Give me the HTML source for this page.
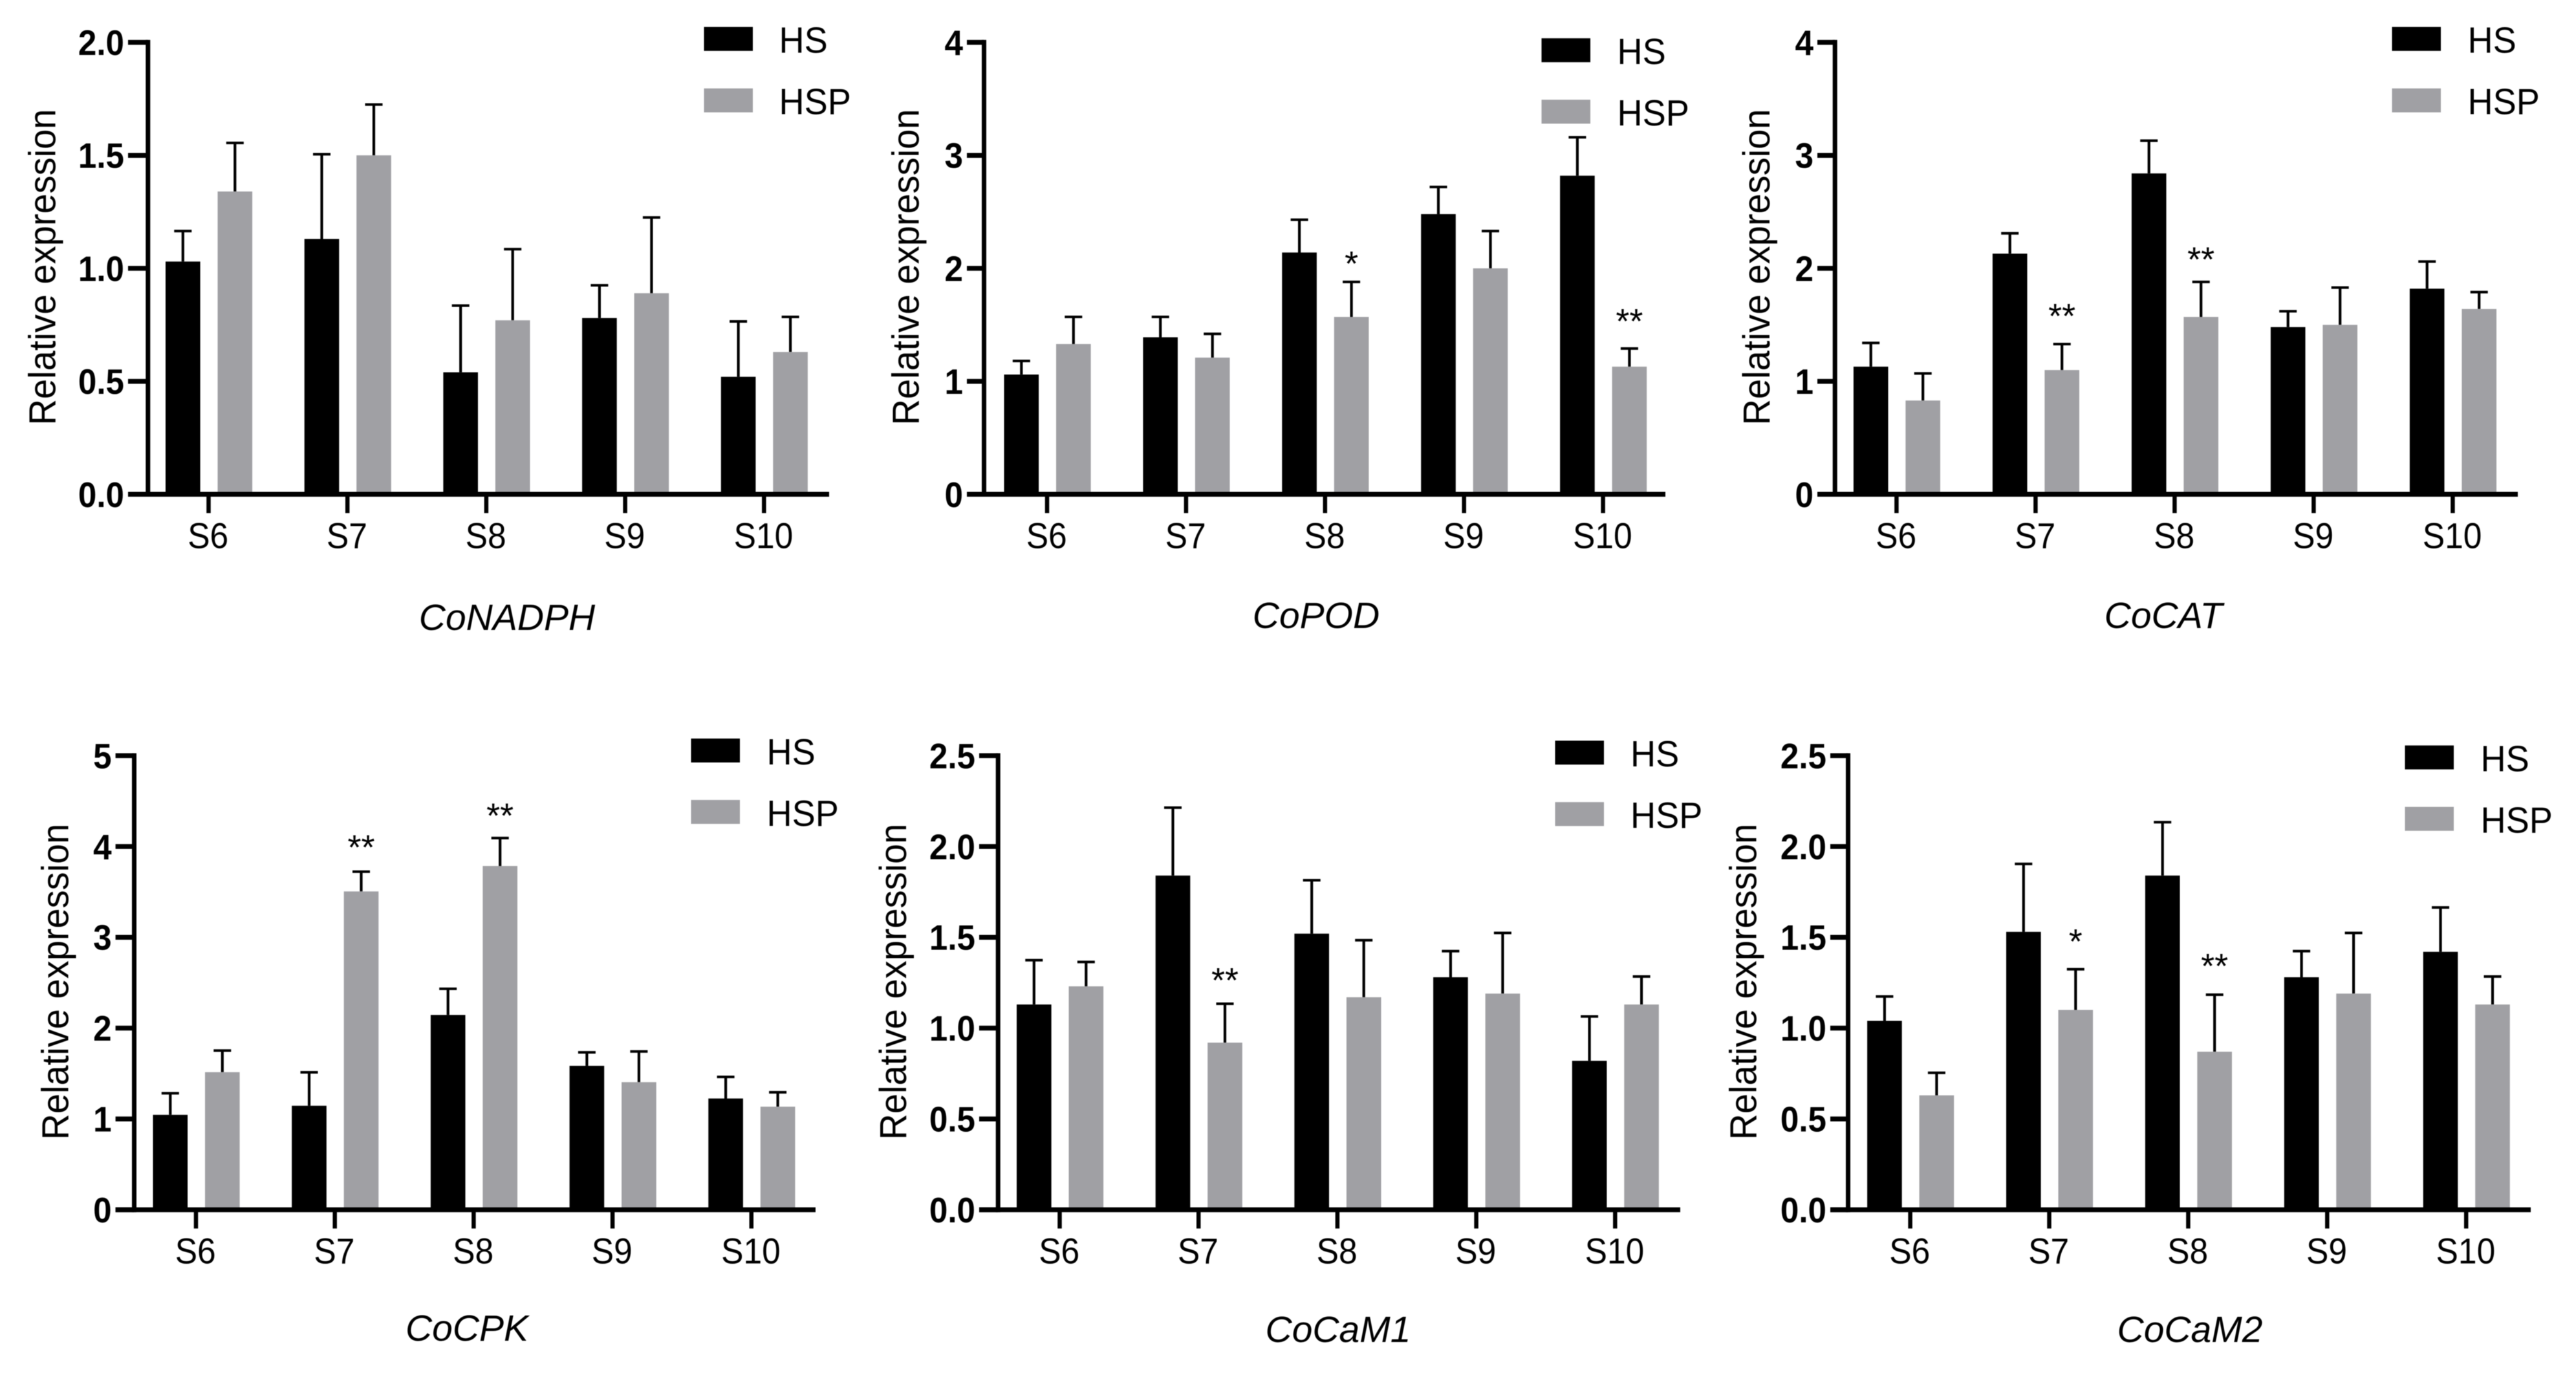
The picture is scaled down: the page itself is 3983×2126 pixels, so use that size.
<!DOCTYPE html>
<html lang="en">
<head>
<meta charset="utf-8">
<title>Relative expression of CoNADPH, CoPOD, CoCAT, CoCPK, CoCaM1 and CoCaM2</title>
<style>
html,body{margin:0;padding:0;background:#fff;}
svg{display:block;filter:blur(0.6px);}
text{font-family:"Liberation Sans",Arial,sans-serif;fill:#000;}
</style>
</head>
<body>
<svg id="figure" xmlns="http://www.w3.org/2000/svg" width="3983" height="2126" viewBox="0 0 3983 2126"></svg>
<script>
// ---- data ----
const categories = ['S6', 'S7', 'S8', 'S9', 'S10'];
const seriesNames = ['HS', 'HSP'];
const yAxisTitle = 'Relative expression';

const ticksHalf = ['0.0', '0.5', '1.0', '1.5', '2.0'];
const ticksFour = ['0', '1', '2', '3', '4'];
const ticksFive = ['0', '1', '2', '3', '4', '5'];
const ticksHalfWide = ['0.0', '0.5', '1.0', '1.5', '2.0', '2.5'];

const hsCoNADPH = [1.03, 1.13, 0.54, 0.78, 0.52];
const hsErrCoNADPH = [0.135, 0.375, 0.295, 0.145, 0.245];
const hspCoNADPH = [1.34, 1.50, 0.77, 0.89, 0.63];
const hspErrCoNADPH = [0.215, 0.225, 0.315, 0.335, 0.155];
const starsCoNADPH = ['', '', '', '', ''];
const starLevelsCoNADPH = [0, 0, 0, 0, 0];

const hsCoPOD = [1.06, 1.39, 2.14, 2.48, 2.82];
const hsErrCoPOD = [0.12, 0.18, 0.29, 0.24, 0.34];
const hspCoPOD = [1.33, 1.21, 1.57, 2.00, 1.13];
const hspErrCoPOD = [0.24, 0.21, 0.31, 0.33, 0.16];
const starsCoPOD = ['', '', '*', '', '**'];
const starLevelsCoPOD = [0, 0, 2.075, 0, 1.565];

const hsCoCAT = [1.13, 2.13, 2.84, 1.48, 1.82];
const hsErrCoCAT = [0.21, 0.18, 0.29, 0.14, 0.24];
const hspCoCAT = [0.83, 1.10, 1.57, 1.50, 1.64];
const hspErrCoCAT = [0.24, 0.23, 0.31, 0.33, 0.15];
const starsCoCAT = ['', '**', '**', '', ''];
const starLevelsCoCAT = [0, 1.61, 2.11, 0, 0];

const hsCoCPK = [1.045, 1.145, 2.145, 1.585, 1.225];
const hsErrCoCPK = [0.238, 0.368, 0.288, 0.148, 0.238];
const hspCoCPK = [1.515, 3.505, 3.785, 1.405, 1.135];
const hspErrCoCPK = [0.238, 0.218, 0.308, 0.338, 0.158];
const starsCoCPK = ['', '**', '**', '', ''];
const starLevelsCoCPK = [0, 4.03, 4.38, 0, 0];

const hsCoCaM1 = [1.13, 1.84, 1.52, 1.28, 0.82];
const hsErrCoCaM1 = [0.244, 0.374, 0.294, 0.144, 0.244];
const hspCoCaM1 = [1.23, 0.92, 1.17, 1.19, 1.13];
const hspErrCoCaM1 = [0.134, 0.214, 0.314, 0.334, 0.154];
const starsCoCaM1 = ['', '**', '', '', ''];
const starLevelsCoCaM1 = [0, 1.283, 0, 0, 0];

const hsCoCaM2 = [1.04, 1.53, 1.84, 1.28, 1.42];
const hsErrCoCaM2 = [0.134, 0.374, 0.294, 0.144, 0.244];
const hspCoCaM2 = [0.63, 1.10, 0.87, 1.19, 1.13];
const hspErrCoCaM2 = [0.124, 0.224, 0.314, 0.334, 0.154];
const starsCoCaM2 = ['', '*', '**', '', ''];
const starLevelsCoCaM2 = [0, 1.498, 1.362, 0, 0];

// ---- panel wiring and layout (layout is not data) ----
const panels = [
  {id:'conadph', title:'CoNADPH', ticks:ticksHalf, hs:hsCoNADPH, hsErr:hsErrCoNADPH, hsp:hspCoNADPH, hspErr:hspErrCoNADPH, stars:starsCoNADPH, starLevels:starLevelsCoNADPH,
   box:{axisX:228.8, tickLeft:198, right:1282, firstX:322.5, step:214.7, y0:764.3, yTop:65.5, yTitleX:85.5, yTitleY:413, titleX:784, titleY:974, swX:1088.5, legTextX:1204.5, legY:41.7}},
  {id:'copod', title:'CoPOD', ticks:ticksFour, hs:hsCoPOD, hsErr:hsErrCoPOD, hsp:hspCoPOD, hspErr:hspErrCoPOD, stars:starsCoPOD, starLevels:starLevelsCoPOD,
   box:{axisX:1521.5, tickLeft:1495, right:2575, firstX:1619, step:214.9, y0:764.3, yTop:65.5, yTitleX:1420.5, yTitleY:413, titleX:2035, titleY:971, swX:2383.5, legTextX:2500.5, legY:59.2}},
  {id:'cocat', title:'CoCAT', ticks:ticksFour, hs:hsCoCAT, hsErr:hsErrCoCAT, hsp:hspCoCAT, hspErr:hspErrCoCAT, stars:starsCoCAT, starLevels:starLevelsCoCAT,
   box:{axisX:2837.2, tickLeft:2810, right:3893, firstX:2932.4, step:215, y0:764.3, yTop:65.5, yTitleX:2736, yTitleY:413, titleX:3345, titleY:971, swX:3698.5, legTextX:3815.5, legY:41.7}},
  {id:'cocpk', title:'CoCPK', ticks:ticksFive, hs:hsCoCPK, hsErr:hsErrCoCPK, hsp:hspCoCPK, hspErr:hspErrCoCPK, stars:starsCoCPK, starLevels:starLevelsCoCPK,
   box:{axisX:207.5, tickLeft:178.6, right:1261, firstX:303, step:214.7, y0:1870.5, yTop:1168.4, yTitleX:105.5, yTitleY:1518, titleX:722, titleY:2073, swX:1068.5, legTextX:1185.5, legY:1141.9}},
  {id:'cocam1', title:'CoCaM1', ticks:ticksHalfWide, hs:hsCoCaM1, hsErr:hsErrCoCaM1, hsp:hspCoCaM1, hspErr:hspErrCoCaM1, stars:starsCoCaM1, starLevels:starLevelsCoCaM1,
   box:{axisX:1543.2, tickLeft:1514, right:2598, firstX:1638.5, step:214.7, y0:1870.5, yTop:1168.4, yTitleX:1401.2, yTitleY:1518, titleX:2069, titleY:2075, swX:2404.5, legTextX:2521, legY:1145.2}},
  {id:'cocam2', title:'CoCaM2', ticks:ticksHalfWide, hs:hsCoCaM2, hsErr:hsErrCoCaM2, hsp:hspCoCaM2, hspErr:hspErrCoCaM2, stars:starsCoCaM2, starLevels:starLevelsCoCaM2,
   box:{axisX:2857.5, tickLeft:2830, right:3913, firstX:2953.6, step:214.9, y0:1870.5, yTop:1168.4, yTitleX:2715.5, yTitleY:1518, titleX:3386, titleY:2075, swX:3718.5, legTextX:3835.5, legY:1152.6}}
];

const NS = 'http://www.w3.org/2000/svg';
const svg = document.getElementById('figure');
const BAR_W = 53.6, HS_OFF = -39.7, HSP_OFF = 40.8, GREY = '#a0a0a4';

function make(parent, tag, attrs, txt) {
  const el = document.createElementNS(NS, tag);
  for (const k in attrs) el.setAttribute(k, attrs[k]);
  if (txt !== undefined) el.textContent = txt;
  parent.appendChild(el);
  return el;
}
function condense(el, factor) {
  const len = el.getComputedTextLength();
  el.setAttribute('textLength', (len * factor).toFixed(1));
  el.setAttribute('lengthAdjust', 'spacingAndGlyphs');
}
function seriesColor(s) { return s === 0 ? '#000' : GREY; }

panels.forEach(function (p) {
  const b = p.box;
  const maxV = parseFloat(p.ticks[p.ticks.length - 1]);
  const yScale = function (v) { return b.y0 - (v / maxV) * (b.y0 - b.yTop); };
  const xScale = function (i) { return b.firstX + i * b.step; };

  const g = make(svg, 'g', {});
  
  

  // bars and error bars
  [[p.hs, p.hsErr, HS_OFF], [p.hsp, p.hspErr, HSP_OFF]].forEach(function (set, s) {
    set[0].forEach(function (v, i) {
      const cx = xScale(i) + set[2];
      const top = yScale(v + set[1][i]);
      const stem = make(g, 'line', {x1: cx, x2: cx, y1: top, y2: yScale(v), stroke: '#000', 'stroke-width': 4.2});
      
      
      const cap = make(g, 'line', {x1: cx - 13.5, x2: cx + 13.5, y1: top, y2: top, stroke: '#000', 'stroke-width': 4});
      
      
      const bar = make(g, 'rect', {x: cx - BAR_W / 2, y: yScale(v), width: BAR_W, height: b.y0 - yScale(v), fill: seriesColor(s)});
      
      
    });
  });

  // significance stars above HSP bars
  p.stars.forEach(function (label, i) {
    if (!label) return;
    const star = make(g, 'text', {x: xScale(i) + HSP_OFF, y: yScale(p.starLevels[i]) + 24, 'font-size': 54, 'text-anchor': 'middle'}, label);
    
    
  });

  // y axis
  const yLine = make(g, 'line', {x1: b.axisX, x2: b.axisX, y1: b.yTop - 3.75, y2: b.y0 + 3.75, stroke: '#000', 'stroke-width': 7});
  
  
  p.ticks.forEach(function (label) {
    const y = yScale(parseFloat(label));
    const t = make(g, 'line', {x1: b.tickLeft, x2: b.axisX, y1: y, y2: y, stroke: '#000', 'stroke-width': 7.5});
    
    
    const tl = make(g, 'text', {x: b.tickLeft - 6, y: y + 19.5, 'font-size': 55, 'font-weight': 'bold', 'text-anchor': 'end'}, label);
    
    
    condense(tl, 0.93);
  });

  // x axis
  const xLine = make(g, 'line', {x1: b.tickLeft, x2: b.right, y1: b.y0, y2: b.y0, stroke: '#000', 'stroke-width': 7.5});
  
  
  categories.forEach(function (c, i) {
    const x = xScale(i);
    const t = make(g, 'line', {x1: x, x2: x, y1: b.y0, y2: b.y0 + 29, stroke: '#000', 'stroke-width': 6.5});
    
    
    const tl = make(g, 'text', {x: x - 0.8, y: b.y0 + 83, 'font-size': 56, 'text-anchor': 'middle'}, c);
    
    
    condense(tl, 0.92);
  });

  // titles
  const yt = make(g, 'text', {'font-size': 58, 'text-anchor': 'middle', transform: 'translate(' + b.yTitleX + ',' + b.yTitleY + ') rotate(-90)'}, yAxisTitle);
  
  
  condense(yt, 0.966);
  const title = make(g, 'text', {x: b.titleX, y: b.titleY, 'font-size': 57, 'font-style': 'italic', 'text-anchor': 'middle'}, p.title);
  
  

  // legend
  seriesNames.forEach(function (n, s) {
    const y = b.legY + s * 95;
    const sw = make(g, 'rect', {x: b.swX, y: y, width: 75.5, height: 37, fill: seriesColor(s)});
    
    
    const lt = make(g, 'text', {x: b.legTextX, y: y + 40, 'font-size': 57}, n);
    
    
    condense(lt, 0.95);
  });
});
</script>
</body>
</html>
